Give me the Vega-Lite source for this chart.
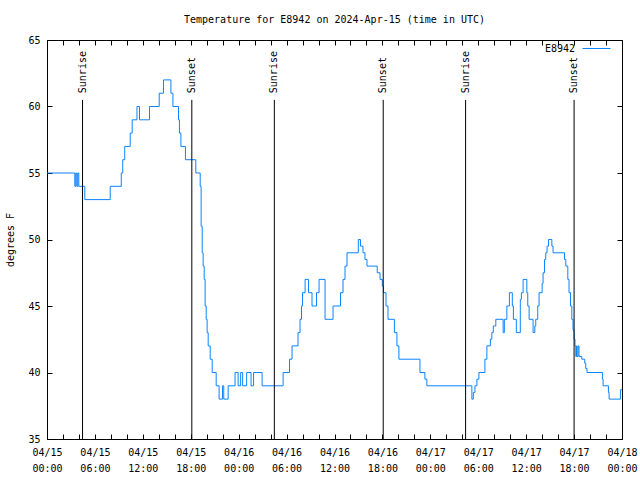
{
  "$schema": "https://vega.github.io/schema/vega-lite/v6.json",
  "width": 575,
  "height": 399,
  "autosize": {"type": "none"},
  "padding": {"left": 47, "top": 40, "right": 18, "bottom": 41},
  "background": "white",
  "title": {"text": "Temperature for E8942 on 2024-Apr-15 (time in UTC)", "font": "DejaVu Sans Mono", "fontSize": 10, "fontWeight": "normal", "anchor": "middle", "frame": "group", "offset": 9, "color": "black"},
  "config": {
    "view": {"stroke": "black", "strokeWidth": 1},
    "font": "DejaVu Sans Mono",
    "axis": {"labelFont": "DejaVu Sans Mono", "labelFontSize": 10, "labelColor": "black", "titleFont": "DejaVu Sans Mono", "titleFontSize": 10, "titleFontWeight": "normal", "titleColor": "black", "domainColor": "black", "tickColor": "black", "grid": false, "tickSize": -5}
  },
  "datasets": {
    "temp": [
      {"t": "2024-04-15T00:00:00Z", "v": 55},
      {"t": "2024-04-15T03:29:00Z", "v": 54},
      {"t": "2024-04-15T03:36:00Z", "v": 55},
      {"t": "2024-04-15T03:44:00Z", "v": 54},
      {"t": "2024-04-15T03:51:00Z", "v": 55},
      {"t": "2024-04-15T03:59:00Z", "v": 54},
      {"t": "2024-04-15T04:44:00Z", "v": 53},
      {"t": "2024-04-15T07:55:00Z", "v": 54},
      {"t": "2024-04-15T09:18:00Z", "v": 55},
      {"t": "2024-04-15T09:29:00Z", "v": 56},
      {"t": "2024-04-15T09:44:00Z", "v": 57},
      {"t": "2024-04-15T10:25:00Z", "v": 58},
      {"t": "2024-04-15T10:40:00Z", "v": 59},
      {"t": "2024-04-15T11:16:00Z", "v": 60},
      {"t": "2024-04-15T11:35:00Z", "v": 59},
      {"t": "2024-04-15T12:50:00Z", "v": 60},
      {"t": "2024-04-15T14:03:00Z", "v": 61},
      {"t": "2024-04-15T14:35:00Z", "v": 62},
      {"t": "2024-04-15T15:31:00Z", "v": 61},
      {"t": "2024-04-15T15:46:00Z", "v": 60},
      {"t": "2024-04-15T16:28:00Z", "v": 59},
      {"t": "2024-04-15T16:35:00Z", "v": 58},
      {"t": "2024-04-15T16:46:00Z", "v": 57},
      {"t": "2024-04-15T17:20:00Z", "v": 56},
      {"t": "2024-04-15T18:38:00Z", "v": 55},
      {"t": "2024-04-15T19:11:00Z", "v": 54},
      {"t": "2024-04-15T19:18:00Z", "v": 51},
      {"t": "2024-04-15T19:26:00Z", "v": 49},
      {"t": "2024-04-15T19:33:00Z", "v": 48},
      {"t": "2024-04-15T19:41:00Z", "v": 47},
      {"t": "2024-04-15T19:48:00Z", "v": 45},
      {"t": "2024-04-15T19:56:00Z", "v": 44},
      {"t": "2024-04-15T20:03:00Z", "v": 43},
      {"t": "2024-04-15T20:11:00Z", "v": 42},
      {"t": "2024-04-15T20:26:00Z", "v": 41},
      {"t": "2024-04-15T20:41:00Z", "v": 40},
      {"t": "2024-04-15T21:11:00Z", "v": 39},
      {"t": "2024-04-15T21:33:00Z", "v": 38},
      {"t": "2024-04-15T21:59:00Z", "v": 39},
      {"t": "2024-04-15T22:08:00Z", "v": 38},
      {"t": "2024-04-15T22:41:00Z", "v": 39},
      {"t": "2024-04-15T23:33:00Z", "v": 40},
      {"t": "2024-04-15T23:56:00Z", "v": 39},
      {"t": "2024-04-16T00:15:00Z", "v": 40},
      {"t": "2024-04-16T00:30:00Z", "v": 39},
      {"t": "2024-04-16T01:00:00Z", "v": 40},
      {"t": "2024-04-16T01:33:00Z", "v": 39},
      {"t": "2024-04-16T01:52:00Z", "v": 40},
      {"t": "2024-04-16T02:56:00Z", "v": 39},
      {"t": "2024-04-16T05:34:00Z", "v": 40},
      {"t": "2024-04-16T06:22:00Z", "v": 41},
      {"t": "2024-04-16T06:41:00Z", "v": 42},
      {"t": "2024-04-16T07:26:00Z", "v": 43},
      {"t": "2024-04-16T07:41:00Z", "v": 44},
      {"t": "2024-04-16T07:52:00Z", "v": 45},
      {"t": "2024-04-16T08:00:00Z", "v": 46},
      {"t": "2024-04-16T08:19:00Z", "v": 47},
      {"t": "2024-04-16T08:45:00Z", "v": 46},
      {"t": "2024-04-16T09:11:00Z", "v": 45},
      {"t": "2024-04-16T09:45:00Z", "v": 46},
      {"t": "2024-04-16T10:04:00Z", "v": 47},
      {"t": "2024-04-16T10:49:00Z", "v": 44},
      {"t": "2024-04-16T11:49:00Z", "v": 45},
      {"t": "2024-04-16T12:45:00Z", "v": 46},
      {"t": "2024-04-16T13:04:00Z", "v": 47},
      {"t": "2024-04-16T13:19:00Z", "v": 48},
      {"t": "2024-04-16T13:34:00Z", "v": 49},
      {"t": "2024-04-16T14:59:00Z", "v": 50},
      {"t": "2024-04-16T15:15:00Z", "v": 49.5},
      {"t": "2024-04-16T15:34:00Z", "v": 49},
      {"t": "2024-04-16T15:49:00Z", "v": 48.5},
      {"t": "2024-04-16T16:04:00Z", "v": 48},
      {"t": "2024-04-16T17:21:00Z", "v": 47.5},
      {"t": "2024-04-16T17:42:00Z", "v": 47},
      {"t": "2024-04-16T17:59:00Z", "v": 46.5},
      {"t": "2024-04-16T18:08:00Z", "v": 46},
      {"t": "2024-04-16T18:27:00Z", "v": 45},
      {"t": "2024-04-16T18:42:00Z", "v": 44},
      {"t": "2024-04-16T19:30:00Z", "v": 43},
      {"t": "2024-04-16T19:49:00Z", "v": 42},
      {"t": "2024-04-16T20:04:00Z", "v": 41},
      {"t": "2024-04-16T22:42:00Z", "v": 40},
      {"t": "2024-04-16T23:19:00Z", "v": 39.5},
      {"t": "2024-04-16T23:34:00Z", "v": 39},
      {"t": "2024-04-17T05:12:00Z", "v": 38},
      {"t": "2024-04-17T05:23:00Z", "v": 38.5},
      {"t": "2024-04-17T05:35:00Z", "v": 39},
      {"t": "2024-04-17T05:50:00Z", "v": 39.5},
      {"t": "2024-04-17T06:05:00Z", "v": 40},
      {"t": "2024-04-17T06:50:00Z", "v": 41},
      {"t": "2024-04-17T07:05:00Z", "v": 42},
      {"t": "2024-04-17T07:31:00Z", "v": 42.5},
      {"t": "2024-04-17T07:42:00Z", "v": 43},
      {"t": "2024-04-17T07:53:00Z", "v": 43.5},
      {"t": "2024-04-17T08:12:00Z", "v": 44},
      {"t": "2024-04-17T09:07:00Z", "v": 43},
      {"t": "2024-04-17T09:16:00Z", "v": 44},
      {"t": "2024-04-17T09:35:00Z", "v": 45},
      {"t": "2024-04-17T09:54:00Z", "v": 46},
      {"t": "2024-04-17T10:16:00Z", "v": 45},
      {"t": "2024-04-17T10:24:00Z", "v": 44},
      {"t": "2024-04-17T10:46:00Z", "v": 43},
      {"t": "2024-04-17T11:16:00Z", "v": 45.5},
      {"t": "2024-04-17T11:24:00Z", "v": 46},
      {"t": "2024-04-17T11:37:00Z", "v": 47},
      {"t": "2024-04-17T12:05:00Z", "v": 46},
      {"t": "2024-04-17T12:12:00Z", "v": 45},
      {"t": "2024-04-17T12:22:00Z", "v": 44},
      {"t": "2024-04-17T12:52:00Z", "v": 43},
      {"t": "2024-04-17T13:05:00Z", "v": 43.5},
      {"t": "2024-04-17T13:12:00Z", "v": 44},
      {"t": "2024-04-17T13:27:00Z", "v": 45},
      {"t": "2024-04-17T13:37:00Z", "v": 46},
      {"t": "2024-04-17T14:00:00Z", "v": 46.7},
      {"t": "2024-04-17T14:07:00Z", "v": 47.5},
      {"t": "2024-04-17T14:18:00Z", "v": 48.5},
      {"t": "2024-04-17T14:27:00Z", "v": 49},
      {"t": "2024-04-17T14:37:00Z", "v": 49.5},
      {"t": "2024-04-17T14:48:00Z", "v": 50},
      {"t": "2024-04-17T15:13:00Z", "v": 49.5},
      {"t": "2024-04-17T15:22:00Z", "v": 49},
      {"t": "2024-04-17T16:48:00Z", "v": 48.5},
      {"t": "2024-04-17T16:58:00Z", "v": 48},
      {"t": "2024-04-17T17:13:00Z", "v": 47},
      {"t": "2024-04-17T17:22:00Z", "v": 46},
      {"t": "2024-04-17T17:33:00Z", "v": 45},
      {"t": "2024-04-17T17:43:00Z", "v": 44},
      {"t": "2024-04-17T17:52:00Z", "v": 43.2},
      {"t": "2024-04-17T18:00:00Z", "v": 42.5},
      {"t": "2024-04-17T18:07:00Z", "v": 42},
      {"t": "2024-04-17T18:13:00Z", "v": 41.2},
      {"t": "2024-04-17T18:18:00Z", "v": 42},
      {"t": "2024-04-17T18:22:00Z", "v": 41.2},
      {"t": "2024-04-17T18:30:00Z", "v": 42},
      {"t": "2024-04-17T18:37:00Z", "v": 41.2},
      {"t": "2024-04-17T18:58:00Z", "v": 41},
      {"t": "2024-04-17T19:20:00Z", "v": 40.7},
      {"t": "2024-04-17T19:28:00Z", "v": 40.3},
      {"t": "2024-04-17T19:37:00Z", "v": 40},
      {"t": "2024-04-17T21:33:00Z", "v": 39.5},
      {"t": "2024-04-17T21:38:00Z", "v": 39},
      {"t": "2024-04-17T22:18:00Z", "v": 38.5},
      {"t": "2024-04-17T22:23:00Z", "v": 38},
      {"t": "2024-04-17T23:48:00Z", "v": 38.7},
      {"t": "2024-04-18T00:00:00Z", "v": 38.7}
    ],
    "sun": [
      {"t": "2024-04-15T04:27:00Z", "label": "Sunrise"},
      {"t": "2024-04-15T18:08:00Z", "label": "Sunset"},
      {"t": "2024-04-16T04:28:00Z", "label": "Sunrise"},
      {"t": "2024-04-16T18:06:00Z", "label": "Sunset"},
      {"t": "2024-04-17T04:25:00Z", "label": "Sunrise"},
      {"t": "2024-04-17T18:00:00Z", "label": "Sunset"}
    ]
  },
  "layer": [
    {
      "data": {"name": "temp"},
      "mark": {"type": "line", "interpolate": "step-after", "strokeWidth": 1},
      "encoding": {
        "x": {
          "field": "t", "type": "temporal",
          "scale": {"type": "utc", "domain": [1713139200000, 1713398400000]},
          "axis": {
            "orient": "bottom", "title": null,
            "values": [1713139200000,1713146400000,1713153600000,1713160800000,1713168000000,1713175200000,1713182400000,1713189600000,1713196800000,1713204000000,1713211200000,1713218400000,1713225600000,1713232800000,1713240000000,1713247200000,1713254400000,1713261600000,1713268800000,1713276000000,1713283200000,1713290400000,1713297600000,1713304800000,1713312000000,1713319200000,1713326400000,1713333600000,1713340800000,1713348000000,1713355200000,1713362400000,1713369600000,1713376800000,1713384000000,1713391200000,1713398400000],
            "labelExpr": "utchours(datum.value) % 6 == 0 ? [utcFormat(datum.value, '%m/%d'), utcFormat(datum.value, '%H:%M')] : ''",
            "labelPadding": 13, "labelLineHeight": 16, "labelOverlap": false, "labelFlush": false, "labelBound": false
          }
        },
        "y": {
          "field": "v", "type": "quantitative",
          "scale": {"domain": [35, 65], "nice": false, "zero": false},
          "axis": {"orient": "left", "values": [35, 40, 45, 50, 55, 60, 65], "title": "degrees F", "titlePadding": 12, "labelPadding": 12}
        },
        "color": {
          "datum": "E8942",
          "scale": {"range": ["#0a84ff"]},
          "legend": {"orient": "none", "legendX": 535, "legendY": -6, "title": null, "symbolType": "stroke", "symbolSize": 784, "symbolStrokeWidth": 1, "labelAlign": "right", "labelOffset": -36, "labelFont": "DejaVu Sans Mono", "labelFontSize": 10, "labelColor": "black", "padding": 0}
        }
      }
    },
    {
      "data": {"name": "sun"},
      "mark": {"type": "rule", "color": "black", "strokeWidth": 1},
      "encoding": {
        "x": {
          "field": "t", "type": "temporal",
          "axis": {
            "orient": "top", "title": null, "labels": false, "domain": false,
            "values": [1713139200000,1713146400000,1713153600000,1713160800000,1713168000000,1713175200000,1713182400000,1713189600000,1713196800000,1713204000000,1713211200000,1713218400000,1713225600000,1713232800000,1713240000000,1713247200000,1713254400000,1713261600000,1713268800000,1713276000000,1713283200000,1713290400000,1713297600000,1713304800000,1713312000000,1713319200000,1713326400000,1713333600000,1713340800000,1713348000000,1713355200000,1713362400000,1713369600000,1713376800000,1713384000000,1713391200000,1713398400000]
          }
        },
        "y": {"datum": 60.5, "axis": {"orient": "right", "title": null, "labels": false, "domain": false, "values": [35, 40, 45, 50, 55, 60, 65]}},
        "y2": {"datum": 35}
      }
    },
    {
      "data": {"name": "sun"},
      "mark": {"type": "text", "angle": 270, "align": "left", "baseline": "middle", "font": "DejaVu Sans Mono", "fontSize": 10, "color": "black"},
      "encoding": {
        "x": {"field": "t", "type": "temporal", "axis": null},
        "y": {"datum": 61, "axis": null},
        "text": {"field": "label"}
      }
    }
  ],
  "resolve": {"axis": {"x": "independent", "y": "independent"}}
}
